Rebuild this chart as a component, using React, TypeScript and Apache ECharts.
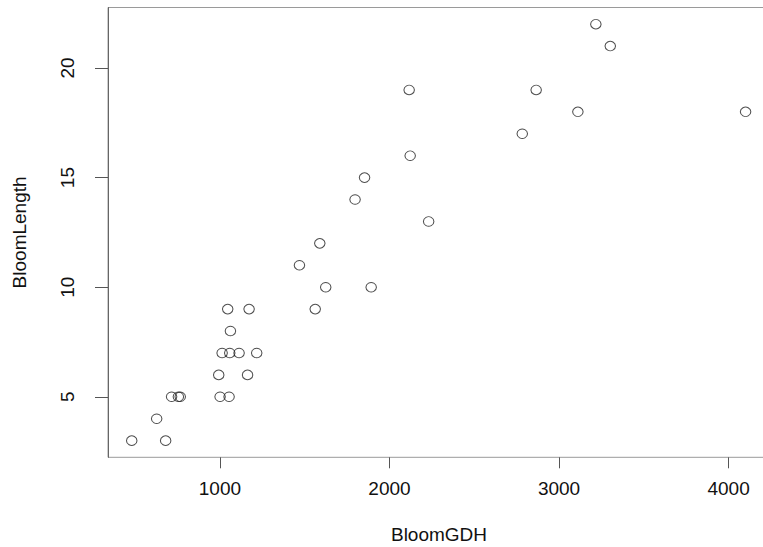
import React, { useEffect, useRef } from "react";
import * as echarts from "echarts";

const bloomGDH = [480, 680, 627, 715, 755, 766, 1001, 1054, 993, 1163, 1013, 1058, 1113, 1217, 1062, 1046, 1172, 1562, 1589, 1469, 1624, 1892, 2116, 2122, 1853, 1797, 2231, 3217, 3302, 2865, 3111, 4100, 2783];
const bloomLength = [3, 3, 4, 5, 5, 5, 5, 5, 6, 6, 7, 7, 7, 7, 8, 9, 9, 9, 12, 11, 10, 10, 19, 16, 15, 14, 13, 22, 21, 19, 18, 18, 17];
const xTicks = [1000, 2000, 3000, 4000];
const yTicks = [5, 10, 15, 20];

export default function App() {
  const ref = useRef<HTMLDivElement>(null);
  useEffect(() => {
    if (!ref.current) return;
    const chart = echarts.init(ref.current, undefined, { renderer: "svg" });
    const font = "'Liberation Sans', Arial, sans-serif";
    const data = bloomGDH.map((x, i) => [x, bloomLength[i]]);
    chart.setOption({
      animation: false,
      backgroundColor: "#ffffff",
      grid: {
        left: 108,
        top: 7.5,
        width: 662,
        height: 449.8,
        outerBoundsMode: "none",
        containLabel: false,
        show: true,
        borderColor: "#9a9a9a",
        borderWidth: 1,
        backgroundColor: "transparent",
      },
      xAxis: {
        type: "value",
        min: 340,
        max: 4244,
        name: "BloomGDH",
        nameLocation: "middle",
        nameGap: 68,
        nameTextStyle: { fontFamily: font, fontSize: 19, color: "#111" },
        axisLine: { show: false },
        splitLine: { show: false },
        axisTick: { show: true, length: 11, lineStyle: { color: "#555" }, customValues: xTicks },
        axisLabel: {
          margin: 22,
          fontFamily: font,
          fontSize: 19,
          color: "#111",
          customValues: xTicks,
          formatter: (v: number) => String(v),
        },
      },
      yAxis: {
        type: "value",
        min: 2.24,
        max: 22.76,
        name: "BloomLength",
        nameLocation: "middle",
        nameGap: 79,
        nameRotate: 90,
        nameTextStyle: { fontFamily: font, fontSize: 19, color: "#111" },
        axisLine: { show: true, lineStyle: { color: "#666" } },
        splitLine: { show: false },
        axisTick: { show: true, length: 13, lineStyle: { color: "#555" }, customValues: yTicks },
        axisLabel: {
          margin: 31,
          rotate: 90,
          fontFamily: font,
          fontSize: 19,
          color: "#111",
          customValues: yTicks,
          formatter: (v: number) => String(v),
        },
      },
      series: [
        {
          type: "scatter",
          data,
          symbol: "circle",
          symbolSize: [10.5, 9.5],
          itemStyle: { color: "transparent", borderColor: "#222", borderWidth: 1 },
          emphasis: { disabled: true },
        },
      ],
    });
    return () => chart.dispose();
  }, []);
  return (
    <div
      ref={ref}
      style={{ position: "fixed", left: 0, top: 0, width: 763, height: 547, background: "#fff" }}
    />
  );
}
